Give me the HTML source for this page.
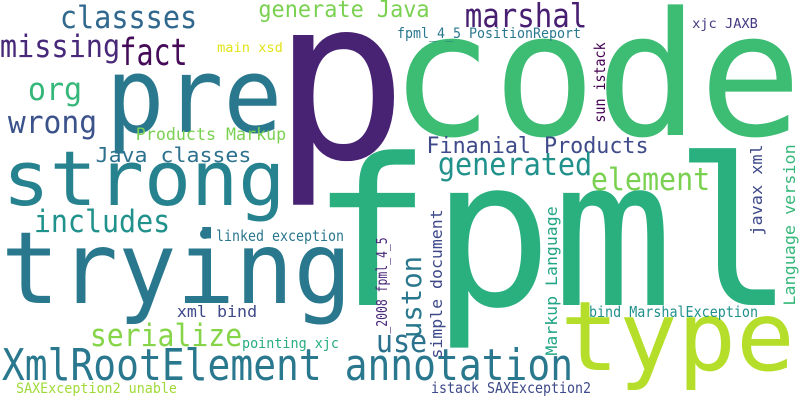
<!DOCTYPE html>
<html><head><meta charset="utf-8"><style>
html,body{margin:0;padding:0;background:#fff;}
svg{display:block;}
text{font-family:"DejaVu Sans Mono","Liberation Mono",monospace;}
</style></head><body>
<svg id="cloud" width="800" height="400" viewBox="0 0 800 400" xmlns="http://www.w3.org/2000/svg">
<rect width="800" height="400" fill="#ffffff"/>
<circle cx="205" cy="234" r="5" fill="#2a788e"/>
</svg>
<script>
// word, left, right, baseline (or bottom for vertical), size, color, vertical
const words = ["p","code","pre","strong","fpml","trying","type","XmlRootElement annotation","classses","generate Java","missing","fact","main xsd","org","wrong","Products Markup","Java classes","marshal","fpml_4_5 PositionReport","xjc JAXB","Finanial Products","generated","element","includes","linked exception","xml bind","serialize","pointing xjc","use","bind MarshalException","istack SAXException2","SAXException2 unable","sun istack","javax xml","Language version","_2008 fpml_4_5","simple document","Markup Language","uston"];
const colors = ["#482374","#3dbc74","#2a788e","#26828e","#2ab07f","#2a788e","#b5de2b","#2a788e","#31688e","#7ad151","#482878","#450b58","#e2e418","#35b779","#3b528b","#7ad151","#2c728e","#481f70","#2a788e","#443a83","#3e4a89","#21918c","#7ad151","#21918c","#2a788e","#3e4a89","#86d549","#27ad81","#2c728e","#21918c","#3e4a89","#a0da39","#440154","#3e4a89","#35b779","#482878","#3e4a89","#21a585","#2a788e"];
const sizes = [225,172,104,76,205,100,96,44,31,23,31,37,13,31,31,17,20,33,14,13,22,31,31,31,15,16,31,14,31,15,15,14,15,16,16,15,16,16,28];
const lefts = [288,402,113,8,325,8,567,5,62,260,2,122,218,30,10,137,97,467,398,693,428,440,593,36,217,178,92,243,378,590,432,17,605,762,795,387,442,557,421];
const rights = [395,790,275,280,780,345,788,570,195,428,118,185,282,80,95,285,250,585,580,757,647,590,708,168,343,256,240,338,425,757,590,176,0,0,0,0,0,0,0];
const baselines = [158,135,132,205,305,303,370,380,28,17,57,65,52,100,133,140,162,27,38,28,153,175,190,232,241,317,346,348,352,317,393,393,122,235,305,333,358,355,337];
const spans = [0,0,0,0,0,0,0,0,0,0,0,0,0,0,0,0,0,0,0,0,0,0,0,0,0,0,0,0,0,0,0,0,79,90,160,95,148,148,80];
const svg = document.getElementById('cloud');
const NS = "http://www.w3.org/2000/svg";
for (let i = 0; i < words.length; i++) {
  const t = document.createElementNS(NS, 'text');
  t.textContent = words[i];
  t.setAttribute('font-size', sizes[i]);
  t.setAttribute('fill', colors[i]);
  const s = sizes[i];
  if (spans[i] > 0) {
    t.setAttribute('transform', 'translate(' + lefts[i] + ',' + baselines[i] + ') rotate(-90)');
    t.setAttribute('x', -0.04 * s);
    t.setAttribute('y', 0);
    t.setAttribute('textLength', spans[i] + 0.08 * s);
  } else {
    t.setAttribute('x', lefts[i] - 0.07 * s);
    t.setAttribute('y', baselines[i]);
    if (words[i].length > 1) t.setAttribute('textLength', (rights[i] - lefts[i]) + 0.14 * s);
  }
  t.setAttribute('lengthAdjust', 'spacingAndGlyphs');
  
  
  svg.appendChild(t);
}
</script>
</body></html>
